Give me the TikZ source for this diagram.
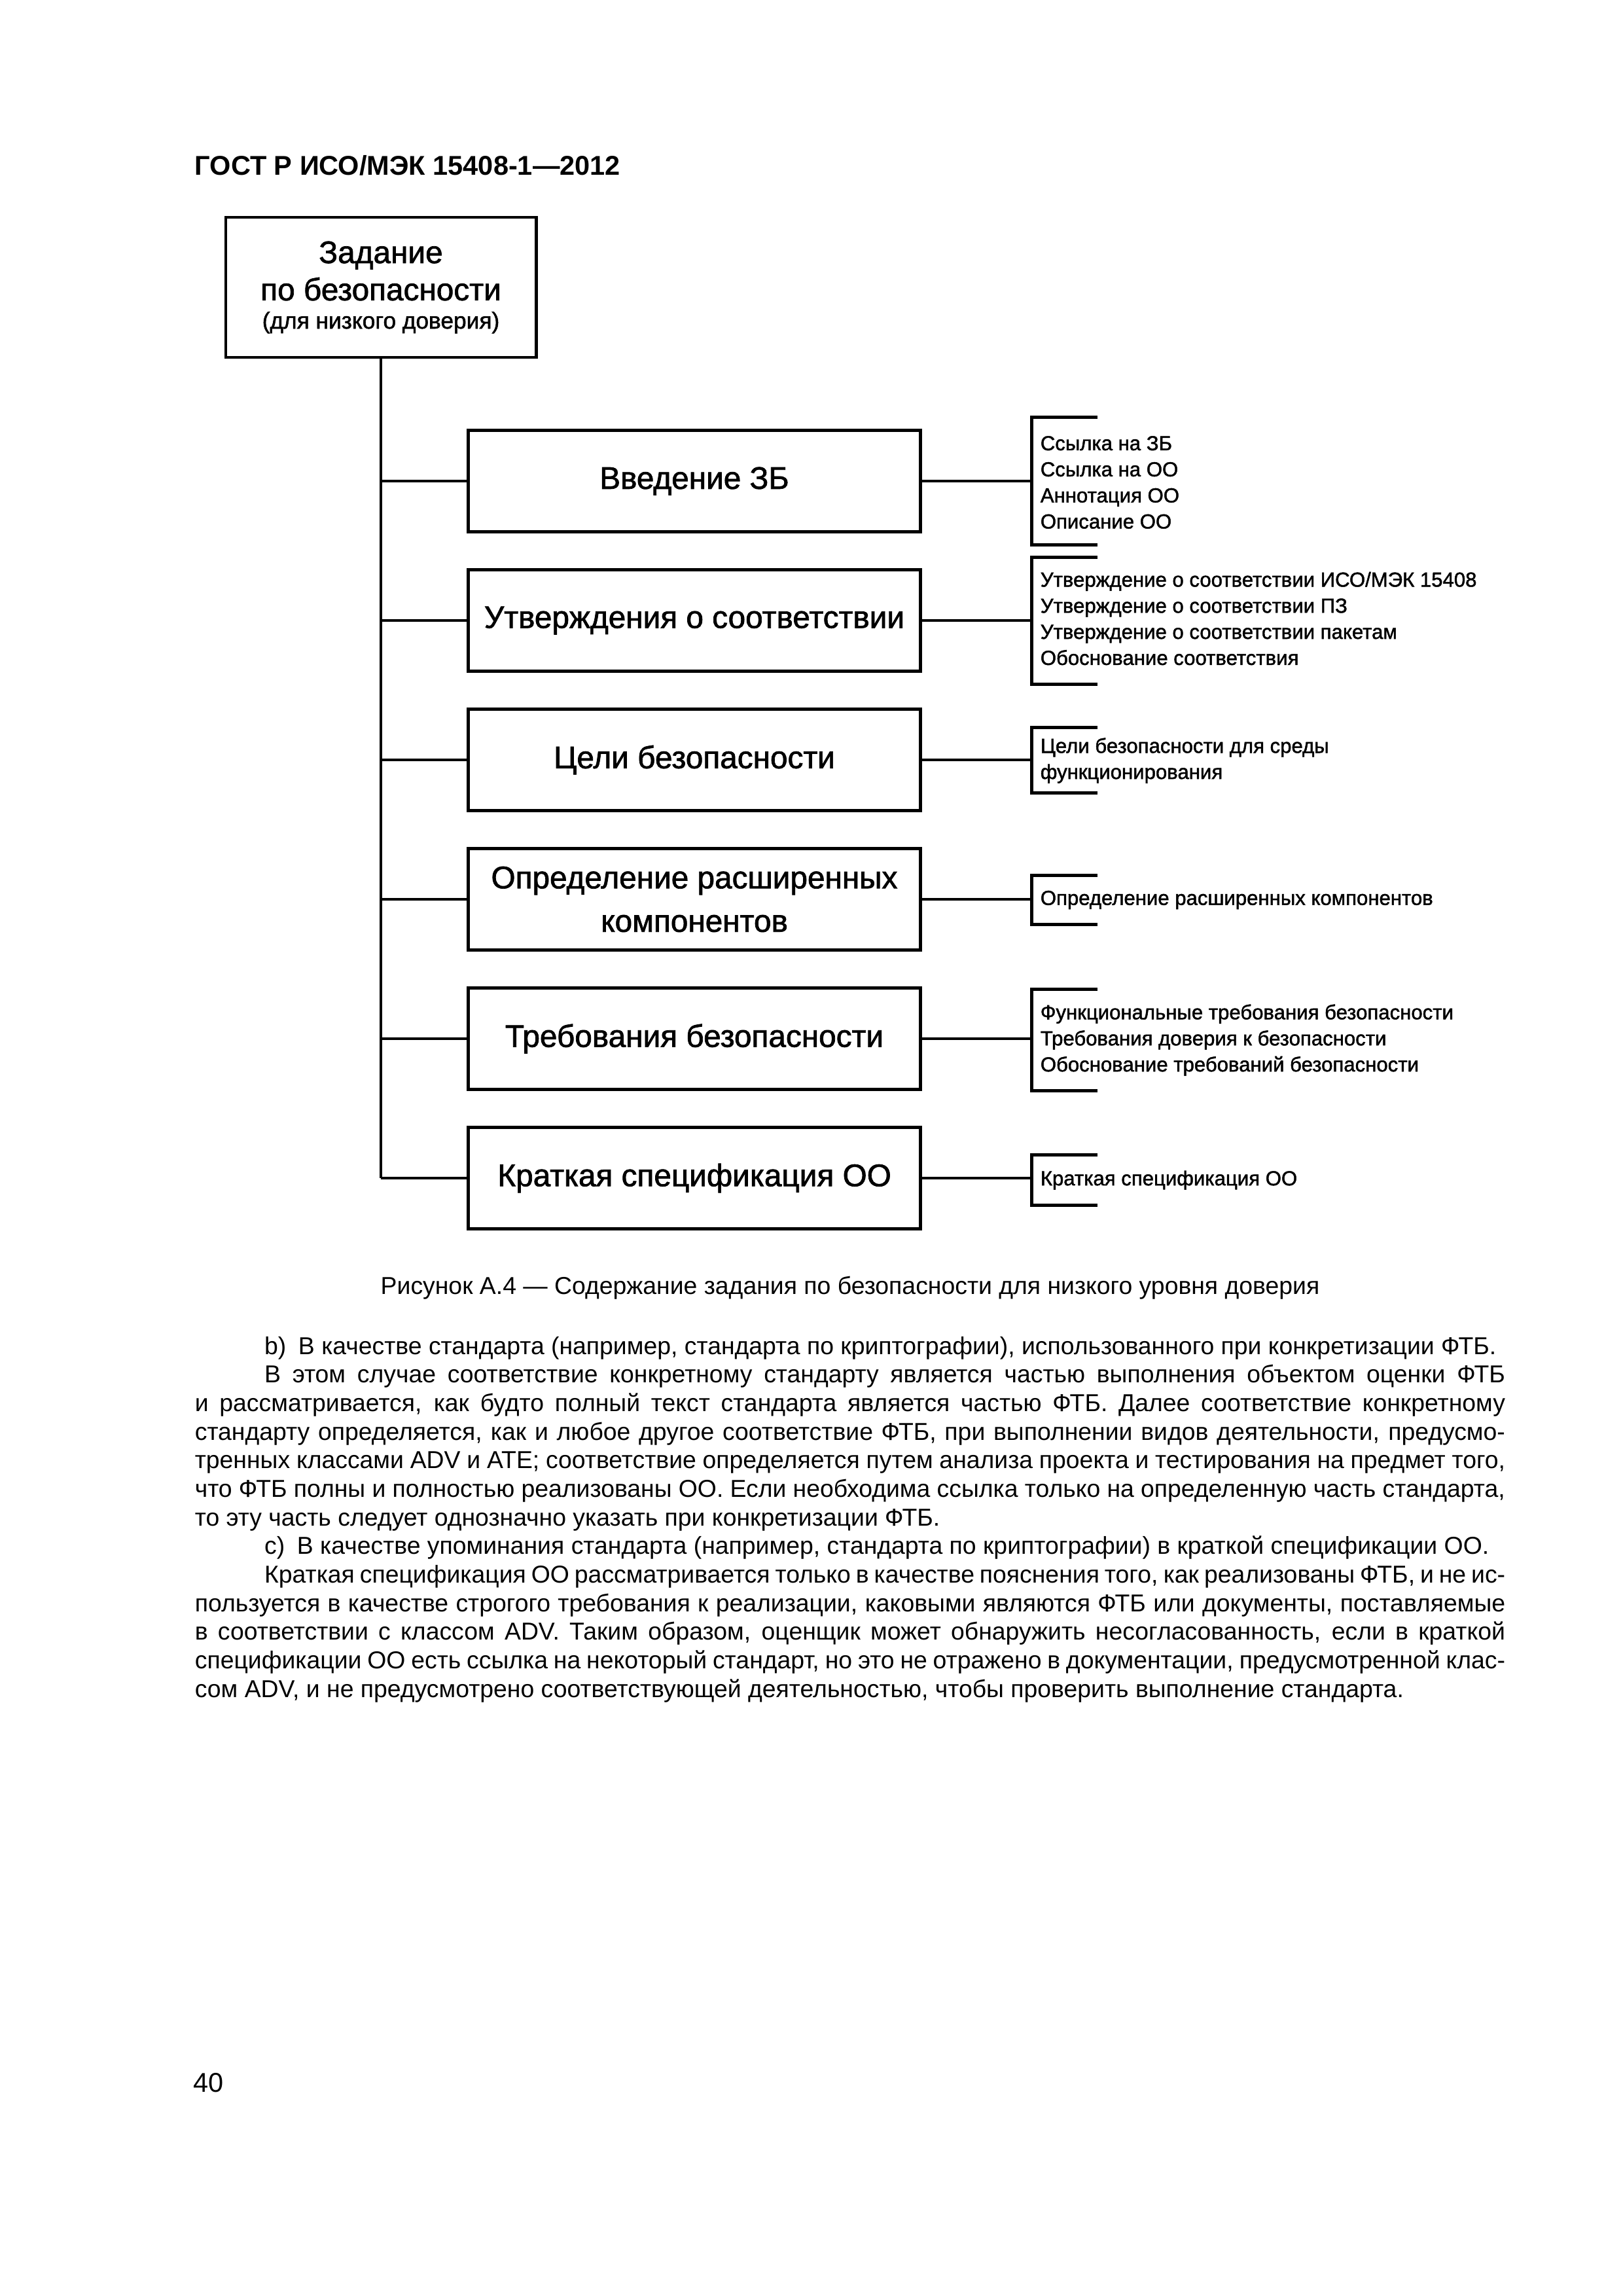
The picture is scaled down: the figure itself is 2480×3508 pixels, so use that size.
\documentclass[tikz,border=0pt]{standalone}
\usepackage{fontspec}
\setmainfont{Liberation Sans}
\newfontfamily\figfont[FakeBold=1.5]{Liberation Sans}
\usetikzlibrary{positioning, calc}

\newcommand{\px}{0.084677mm}
\newlength{\bodyw}
\setlength{\bodyw}{169.52mm}
\newcommand{\jline}[1]{\hbox to\bodyw{#1}}
\newcommand{\pline}[1]{\hbox to\bodyw{#1\hfil}}
\newcommand{\ind}{\hskip 9mm}

\tikzset{
  secbox/.style={rectangle, draw=black, line width=1.2pt, fill=white,
    minimum width=691*\px, minimum height=155*\px, inner sep=0pt,
    align=center, font=\figfont\fontsize{11.5}{16}\selectfont},
  rootbox/.style={secbox, minimum width=474*\px, minimum height=214*\px,
    font=\figfont\fontsize{11.5}{13.7}\selectfont},
  conn/.style={line width=1.1pt, color=black},
  brk/.style={line width=1.2pt, color=black},
  itemlist/.style={anchor=west, align=left, inner sep=0pt,
    font=\figfont\fontsize{7.5}{9.6}\selectfont},
  plain/.style={inner sep=0pt, font=\fontsize{9}{10.52}\selectfont}
}

\begin{document}
\begin{tikzpicture}[x=\px, y=-\px]
  \useasboundingbox (0,0) rectangle (2480,3508);
  \fill[white] (0,0) rectangle (2480,3508);

  % Header
  \node[plain, anchor=base west, font=\fontsize{10}{12}\bfseries\selectfont] (hdr) at (297,267) {ГОСТ Р ИСО/МЭК 15408-1—2012};

  % Root box
  \node[rootbox] (root) at (582,439) {Задание\\по безопасности\\[-3.3pt]{\fontsize{8.5}{9.4}\selectfont(для низкого доверия)}};

  % Sections
  \node[secbox] (sec1) at (1061,735) {Введение ЗБ};
  \node[secbox] (sec2) at (1061,948) {Утверждения о соответствии};
  \node[secbox] (sec3) at (1061,1161) {Цели безопасности};
  \node[secbox] (sec4) at (1061,1374) {Определение расширенных\\компонентов};
  \node[secbox] (sec5) at (1061,1587) {Требования безопасности};
  \node[secbox] (sec6) at (1061,1800) {Краткая спецификация ОО};

  % Trunk and branches
  \draw[conn] (root.south) -- (root.south |- sec6.west);
  \foreach \s in {sec1,sec2,sec3,sec4,sec5,sec6}
    \draw[conn] (root.south |- \s.west) -- (\s.west);

  % Brackets
  \coordinate (br1) at (1576,735);
  \coordinate (br2) at (1576,948);
  \coordinate (br3) at (1576,1161);
  \coordinate (br4) at (1576,1375);
  \coordinate (br5) at (1576,1589);
  \coordinate (br6) at (1576,1803);
  \foreach \s/\b in {sec1/br1,sec2/br2,sec3/br3,sec4/br4,sec5/br5,sec6/br6}
    \draw[conn] (\s.east) -- (\s.east -| \b);
  \foreach \b/\h in {br1/97.5,br2/97,br3/50,br4/37.5,br5/77.5,br6/38.5}
    \draw[brk] ($(\b)+(101,-\h)$) -- ($(\b)+(0,-\h)$) -- ($(\b)+(0,\h)$) -- ($(\b)+(101,\h)$);

  % Item lists
  \node[itemlist] (list1) at (1589,737) {Ссылка на ЗБ\\Ссылка на ОО\\Аннотация ОО\\Описание ОО};
  \node[itemlist] (list2) at (1589,945) {Утверждение о соответствии ИСО/МЭК 15408\\Утверждение о соответствии ПЗ\\Утверждение о соответствии пакетам\\Обоснование соответствия};
  \node[itemlist] (list3) at (1589,1162) {Цели безопасности для среды\\функционирования};
  \node[itemlist] (list4) at (1589,1375) {Определение расширенных компонентов};
  \node[itemlist] (list5) at (1589,1589) {Функциональные требования безопасности\\Требования доверия к безопасности\\Обоснование требований безопасности};
  \node[itemlist] (list6) at (1589,1803) {Краткая спецификация ОО};

  % Caption
  \node[plain, anchor=base] (cap) at (1299,1977) {Рисунок А.4 — Содержание задания по безопасности для низкого уровня доверия};

  % Body text
  \node[plain, anchor=base west] (body) at (297,2069) {\vtop{%
    \pline{\ind b)\enspace В качестве стандарта (например, стандарта по криптографии), использованного при конкретизации ФТБ.}
    \jline{\ind В этом случае соответствие конкретному стандарту является частью выполнения объектом оценки ФТБ}
    \jline{и рассматривается, как будто полный текст стандарта является частью ФТБ. Далее соответствие конкретному}
    \jline{стандарту определяется, как и любое другое соответствие ФТБ, при выполнении видов деятельности, предусмо-}
    \jline{тренных классами ADV и ATE; соответствие определяется путем анализа проекта и тестирования на предмет того,}
    \jline{что ФТБ полны и полностью реализованы ОО. Если необходима ссылка только на определенную часть стандарта,}
    \pline{то эту часть следует однозначно указать при конкретизации ФТБ.}
    \pline{\ind c)\enspace В качестве упоминания стандарта (например, стандарта по криптографии) в краткой спецификации ОО.}
    \jline{\ind Краткая спецификация ОО рассматривается только в качестве пояснения того, как реализованы ФТБ, и не ис-}
    \jline{пользуется в качестве строгого требования к реализации, каковыми являются ФТБ или документы, поставляемые}
    \jline{в соответствии с классом ADV. Таким образом, оценщик может обнаружить несогласованность, если в краткой}
    \jline{спецификации ОО есть ссылка на некоторый стандарт, но это не отражено в документации, предусмотренной клас-}
    \pline{сом ADV, и не предусмотрено соответствующей деятельностью, чтобы проверить выполнение стандарта.}}};

  % Page number
  \node[plain, anchor=base west, font=\fontsize{10}{12}\selectfont] (pgnum) at (295,3196) {40};
\end{tikzpicture}
\end{document}
